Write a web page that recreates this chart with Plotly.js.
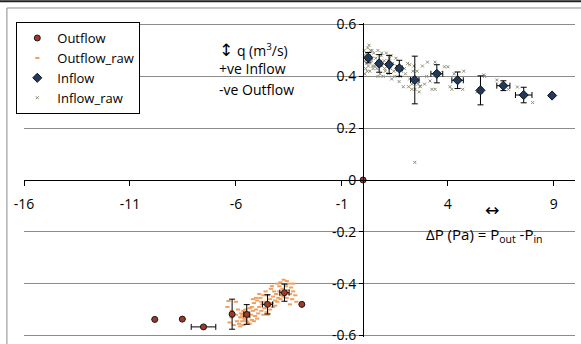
<!DOCTYPE html>
<html>
<head>
<meta charset="utf-8">
<script src="https://cdn.plot.ly/plotly-3.0.1.min.js"></script>
<style>
  html, body { margin: 0; padding: 0; background: #fff; overflow: hidden; }
  #chart { width: 581px; height: 344px; }
</style>
</head>
<body>
<div id="chart"></div>
<script>
// Binned means of flow rate against pressure difference
const outflowX = [-9.83, -8.53, -7.53, -6.18, -5.49, -4.51, -3.71, -2.89, 0];
const outflowY = [-0.538, -0.537, -0.567, -0.518, -0.519, -0.480, -0.435, -0.480, 0];
const outflowErrX = [0, 0, 0.58, 0.03, 0.14, 0.24, 0.22, 0, 0];
const outflowErrY = [0, 0, 0.004, 0.058, 0.038, 0.037, 0.033, 0, 0];

const inflowX = [0.25, 0.76, 1.23, 1.71, 2.44, 3.48, 4.46, 5.54, 6.62, 7.58, 8.92];
const inflowY = [0.472, 0.450, 0.446, 0.431, 0.386, 0.410, 0.385, 0.346, 0.364, 0.328, 0.326];
const inflowErrX = [0.05, 0.1, 0.06, 0.14, 0.2, 0.28, 0.27, 0.1, 0.31, 0.39, 0];
const inflowErrY = [0.02, 0.034, 0.035, 0.031, 0.092, 0.035, 0.032, 0.056, 0.019, 0.03, 0];

// Individual measurements
const outflowRawX = [-6.4, -6.3, -6.2, -6.1, -6.0, -5.95, -5.9, -5.85, -5.8, -5.75, -5.7, -5.65, -5.6, -5.55, -5.5,
  -5.45, -5.4, -5.35, -5.3, -5.25, -5.2, -5.15, -5.1, -5.05, -5.0, -4.95, -4.9, -4.85, -4.8, -4.75, -4.7, -4.65,
  -4.6, -4.55, -4.5, -4.45, -4.4, -4.35, -4.3, -4.25, -4.2, -4.15, -4.1, -4.05, -4.0, -3.95, -3.9, -3.85, -3.8,
  -3.75, -3.7, -3.65, -3.6, -3.55, -3.5, -3.45, -3.4, -3.35, -3.3, -3.2, -3.15,
  -5.6, -5.5, -5.45, -5.7, -5.55, -5.35, -5.65, -6.0, -5.2, -4.9, -4.6, -4.3, -3.9, -4.7, -5.0, -4.4, -3.6,
  -3.3, -5.8, -6.2, -6.35, -5.05, -4.8, -4.15, -3.95, -5.25, -5.75, -4.05, -3.75, -4.5, -5.15, -3.45, -4.25];
const outflowRawY = [-0.49, -0.55, -0.53, -0.56, -0.52, -0.545, -0.50, -0.555, -0.53, -0.515, -0.545, -0.56, -0.525, -0.54, -0.51,
  -0.55, -0.53, -0.495, -0.52, -0.54, -0.505, -0.475, -0.525, -0.50, -0.465, -0.515, -0.49, -0.455, -0.505, -0.48, -0.445, -0.495,
  -0.47, -0.51, -0.445, -0.485, -0.46, -0.42, -0.475, -0.45, -0.43, -0.465, -0.44, -0.40, -0.455, -0.43, -0.395, -0.445, -0.42,
  -0.385, -0.435, -0.41, -0.455, -0.425, -0.40, -0.44, -0.415, -0.46, -0.43, -0.445, -0.47,
  -0.535, -0.545, -0.525, -0.52, -0.50, -0.555, -0.505, -0.47, -0.46, -0.44, -0.43, -0.41, -0.46, -0.52, -0.535, -0.50, -0.39,
  -0.40, -0.565, -0.505, -0.467, -0.455, -0.47, -0.485, -0.41, -0.49, -0.53, -0.47, -0.45, -0.52, -0.545, -0.48, -0.49];

const inflowRawX = [0.05, 0.1, 0.12, 0.15, 0.2, 0.22, 0.25, 0.3, 0.32, 0.35, 0.4, 0.45, 0.5, 0.08, 0.18, 0.28, 0.38, 0.48,
  0.1, 0.2, 0.3, 0.42, 0.6, 0.65, 0.7, 0.75, 0.8, 0.85, 0.9, 0.95, 1.0, 1.05, 1.1, 1.15, 1.2, 1.25, 1.3, 1.35, 1.4, 1.45,
  0.55, 0.7, 0.88, 1.02, 1.18, 1.32, 1.5, 1.6, 1.7, 1.8, 1.9, 2.0, 2.1, 2.2, 2.3, 2.4, 1.55, 1.75, 1.95, 2.15, 2.35, 2.45,
  2.6, 2.7, 2.8, 2.9, 2.55, 2.65, 3.04, 3.16, 3.4, 3.4, 3.63, 3.84, 4.0, 3.25, 3.0, 4.19, 4.4, 4.7, 4.75, 4.3, 4.1,
  5.37, 5.7, 5.73, 6.31, 6.86, 7.28, 8.0, 2.44, 2.2, 2.69, 2.3];
const inflowRawY = [0.50, 0.46, 0.43, 0.49, 0.47, 0.51, 0.44, 0.48, 0.42, 0.50, 0.46, 0.44, 0.49, 0.41, 0.45, 0.52, 0.47, 0.43,
  0.48, 0.42, 0.46, 0.50, 0.47, 0.43, 0.50, 0.45, 0.41, 0.48, 0.44, 0.40, 0.46, 0.42, 0.49, 0.44, 0.41, 0.47, 0.43, 0.39, 0.45, 0.42,
  0.44, 0.40, 0.49, 0.43, 0.46, 0.48, 0.40, 0.44, 0.38, 0.42, 0.36, 0.41, 0.45, 0.39, 0.37, 0.44, 0.47, 0.40, 0.43, 0.36, 0.42, 0.35,
  0.37, 0.36, 0.44, 0.37, 0.42, 0.34, 0.455, 0.382, 0.455, 0.35, 0.414, 0.437, 0.437, 0.35, 0.40, 0.35, 0.39, 0.35, 0.42, 0.41, 0.36,
  0.34, 0.406, 0.40, 0.386, 0.35, 0.359, 0.299, 0.068, 0.445, 0.363, 0.35];

const xTicks = [-16, -11, -6, -1, 4, 9];
const xTickText = ['-16', '-11', '-6', '-1', '4', '9'];
const yTicks = [-0.6, -0.4, -0.2, 0, 0.2, 0.4, 0.6];
const yTickText = ['-0.6', '-0.4', '-0.2', '0', '0.2', '0.4', '0.6'];

const FONT = 'Open Sans, Noto Sans, sans-serif';
const ARROW = 'font-family:DejaVu Sans;font-size:17px';

const traces = [
  {
    name: 'Outflow_raw', x: outflowRawX, y: outflowRawY, type: 'scatter', mode: 'markers', legendrank: 2,
    marker: { symbol: 'line-ew', size: 3, line: { color: '#f0a060', width: 2 } }
  },
  {
    name: 'Inflow_raw', x: inflowRawX, y: inflowRawY, type: 'scatter', mode: 'markers', legendrank: 4,
    marker: { symbol: 'x-thin', size: 3, line: { color: '#8f8f78', width: 1 } }
  },
  {
    name: 'Outflow', x: outflowX, y: outflowY, type: 'scatter', mode: 'markers', legendrank: 1,
    marker: { symbol: 'circle', size: 6, color: '#a03a26', line: { color: '#1a1a1a', width: 1 } },
    error_x: { type: 'data', array: outflowErrX, color: '#000', thickness: 1, width: 3 },
    error_y: { type: 'data', array: outflowErrY, color: '#000', thickness: 1, width: 3 }
  },
  {
    name: 'Inflow', x: inflowX, y: inflowY, type: 'scatter', mode: 'markers', legendrank: 3,
    marker: { symbol: 'diamond', size: 7, color: '#1f3a5f', line: { color: '#111', width: 1 } },
    error_x: { type: 'data', array: inflowErrX, color: '#000', thickness: 1, width: 3 },
    error_y: { type: 'data', array: inflowErrY, color: '#000', thickness: 1, width: 3 }
  }
];

const layout = {
  width: 581, height: 344,
  margin: { l: 24, r: 6, t: 23, b: 7 },
  paper_bgcolor: '#fff', plot_bgcolor: '#fff',
  font: { family: FONT, size: 13, color: '#000' },
  showlegend: true,
  legend: {
    x: -0.014, y: 1.003, xanchor: 'left', yanchor: 'top',
    bgcolor: '#fff', bordercolor: '#000', borderwidth: 1,
    font: { family: FONT, size: 13, color: '#000' },
    itemwidth: 30, tracegroupgap: 0, traceorder: 'normal'
  },
  xaxis: {
    range: [-16, 10], anchor: 'free', position: 0.5,
    showgrid: false, zeroline: false,
    showline: true, linecolor: '#000', linewidth: 1,
    ticks: 'outside', ticklen: 5, tickcolor: '#000', tickwidth: 1,
    tickvals: xTicks, ticktext: xTickText, ticklabelstandoff: 6,
    tickfont: { family: FONT, size: 14, color: '#000' }
  },
  yaxis: {
    range: [-0.606, 0.606], anchor: 'free', position: 16 / 26,
    showgrid: true, gridcolor: '#8c8c8c', gridwidth: 1, zeroline: false,
    showline: true, linecolor: '#000', linewidth: 1,
    ticks: 'outside', ticklen: 4, tickcolor: '#000', tickwidth: 1,
    tickvals: yTicks, ticktext: yTickText, ticklabeloverflow: 'allow',
    tickfont: { family: FONT, size: 14, color: '#000' }
  },
  shapes: [
    { type: 'rect', xref: 'paper', yref: 'paper', x0: -0.031, x1: 1.2, y0: -0.2, y1: 1.0478,
      line: { color: '#8a8a8a', width: 1 }, fillcolor: 'rgba(0,0,0,0)', layer: 'below' },
    { type: 'line', xref: 'paper', yref: 'paper', x0: -0.1, x1: 1.1, y0: 1.069, y1: 1.069,
      line: { color: '#222', width: 2 } }
  ],
  annotations: [
    { xref: 'paper', yref: 'paper', x: 0.350, y: 0.915, xanchor: 'left', yanchor: 'middle', showarrow: false,
      text: '<span style="' + ARROW + '">↕</span> q (m<sup>3</sup>/s)', font: { family: FONT, size: 14 } },
    { xref: 'paper', yref: 'paper', x: 0.350, y: 0.854, xanchor: 'left', yanchor: 'middle', showarrow: false,
      text: '+ve Inflow', font: { family: FONT, size: 14 } },
    { xref: 'paper', yref: 'paper', x: 0.350, y: 0.787, xanchor: 'left', yanchor: 'middle', showarrow: false,
      text: '-ve Outflow', font: { family: FONT, size: 14 } },
    { xref: 'paper', yref: 'paper', x: 0.849, y: 0.406, xanchor: 'center', yanchor: 'middle', showarrow: false,
      text: '<span style="' + ARROW + '">↔</span>', font: { family: FONT, size: 15 } },
    { xref: 'paper', yref: 'paper', x: 0.726, y: 0.324, xanchor: 'left', yanchor: 'middle', showarrow: false,
      text: 'ΔP (Pa) = P<sub>out</sub> -P<sub>in</sub>', font: { family: FONT, size: 15 } }
  ]
};

Plotly.newPlot('chart', traces, layout, { displayModeBar: false, staticPlot: true });
</script>
</body>
</html>
